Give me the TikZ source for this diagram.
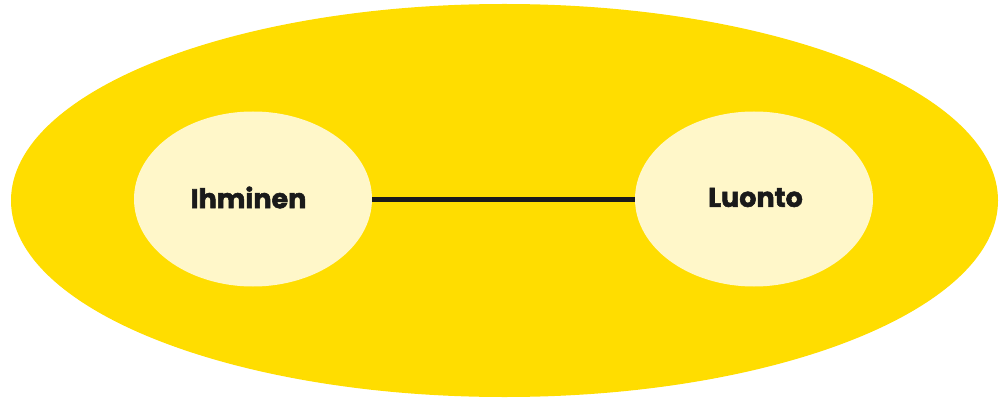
\documentclass[tikz,border=0pt]{standalone}
\usepackage{fontspec}
\setmainfont{Poppins}[BoldFeatures={FakeBold=2}]
\usetikzlibrary{shapes.geometric}
\definecolor{bigyellow}{HTML}{FFDD00}
\definecolor{paleyellow}{HTML}{FFF7C9}
\definecolor{inkdark}{HTML}{1A1A1A}
\begin{document}
\begin{tikzpicture}[x=1pt,y=-1pt,
  outerblob/.style={ellipse,fill=bigyellow,minimum width=987pt,minimum height=393pt,inner sep=0pt},
  innerblob/.style={ellipse,fill=paleyellow,minimum width=238pt,minimum height=175pt,inner sep=0pt},
  blobtext/.style={font=\fontsize{27}{30}\selectfont\bfseries,text=inkdark},
  link/.style={draw=inkdark,line width=5pt}]
\useasboundingbox (0,0) rectangle (1000,398);
\node[outerblob] (world) at (504.5,200.5) {};
\node[innerblob] (human) at (253,199) {};
\node[innerblob] (nature) at (754,199) {};
\node[blobtext] (humantext) at (248.5,197.5) {Ihminen};
\node[blobtext] (naturetext) at (755.5,197.5) {Luonto};
\draw[link] (human.east) -- (nature.west);
\end{tikzpicture}
\end{document}
